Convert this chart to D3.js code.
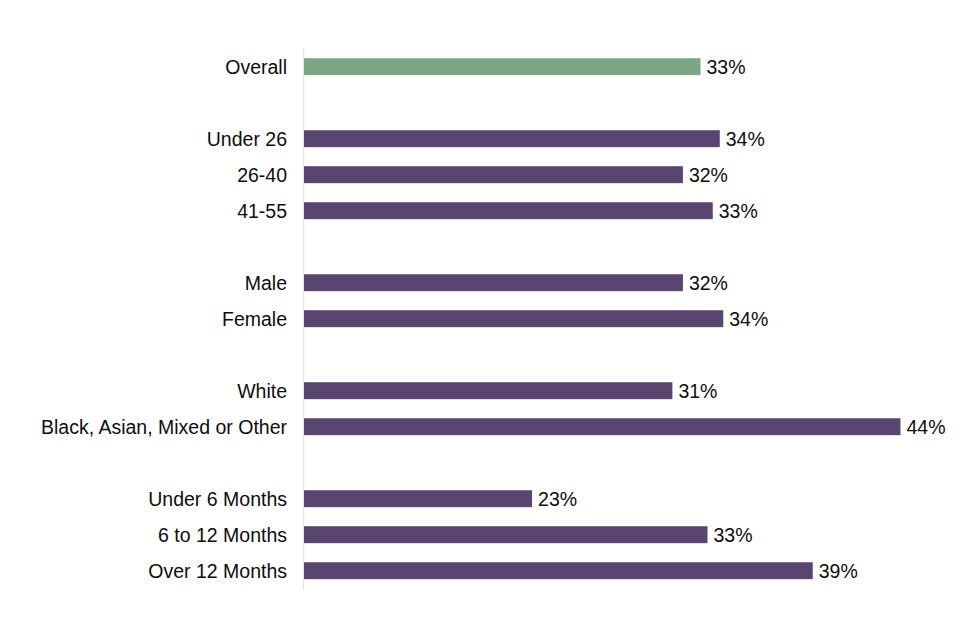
<!DOCTYPE html>
<html>
<head>
<meta charset="utf-8">
<script src="https://cdn.jsdelivr.net/npm/d3@7"></script>
<style>
  html, body { margin: 0; padding: 0; background: #ffffff; }
  svg { display: block; }
  text { font-family: "Liberation Sans", Arial, sans-serif; fill: #0d0d0d; }
</style>
</head>
<body>
<div id="chart"></div>
<script>
// Categories in display order (gap entries are group separators)
const categories = [
  "Overall", "gap1",
  "Under 26", "26-40", "41-55", "gap2",
  "Male", "Female", "gap3",
  "White", "Black, Asian, Mixed or Other", "gap4",
  "Under 6 Months", "6 to 12 Months", "Over 12 Months"
];
// Categories that have bars
const barCategories = [
  "Overall", "Under 26", "26-40", "41-55", "Male", "Female",
  "White", "Black, Asian, Mixed or Other",
  "Under 6 Months", "6 to 12 Months", "Over 12 Months"
];
// Estimated percentages (bar lengths)
const values = [32.6, 33.7, 31.6, 33.3, 31.6, 33.9, 31.0, 44.0, 23.0, 33.0, 39.0];
// Displayed data labels
const valueLabels = ["33%", "34%", "32%", "33%", "32%", "34%", "31%", "44%", "23%", "33%", "39%"];
const highlight = ["Overall"];

const width = 960, height = 640;
const margin = { top: 48.7, right: 42, bottom: 51.3, left: 304 };
const fontSize = 19.5;

const svg = d3.select("#chart").append("svg")
  .attr("width", width).attr("height", height);

const x = d3.scaleLinear()
  .domain([10, 45])
  .range([margin.left, width - margin.right]);

const y = d3.scaleBand()
  .domain(categories)
  .range([margin.top, height - margin.bottom])
  .paddingInner(0.53)
  .paddingOuter(0.265);

// vertical axis line
svg.append("line")
  .attr("x1", margin.left - 0.5).attr("x2", margin.left - 0.5)
  .attr("y1", 48).attr("y2", 590)
  .attr("stroke", "#e3e3e3").attr("stroke-width", 1.5);

const data = barCategories.map((c, i) => ({ cat: c, v: values[i], label: valueLabels[i] }));

svg.selectAll("rect.bar").data(data).join("rect")
  .attr("class", "bar")
  .attr("x", x(10))
  .attr("y", d => y(d.cat))
  .attr("width", d => x(d.v) - x(10))
  .attr("height", y.bandwidth())
  .attr("fill", d => highlight.includes(d.cat) ? "#7da784" : "#5a4570");

// value labels
svg.selectAll("text.val").data(data).join("text")
  .attr("class", "val")
  .attr("x", d => x(d.v) + 6)
  .attr("y", d => y(d.cat) + y.bandwidth() / 2)
  .attr("dy", "0.35em")
  .attr("font-size", fontSize)
  .text(d => d.label);

// category labels
svg.selectAll("text.cat").data(barCategories).join("text")
  .attr("class", "cat")
  .attr("x", margin.left - 17)
  .attr("y", d => y(d) + y.bandwidth() / 2)
  .attr("dy", "0.35em")
  .attr("text-anchor", "end")
  .attr("font-size", fontSize)
  .text(d => d);
</script>
</body>
</html>
